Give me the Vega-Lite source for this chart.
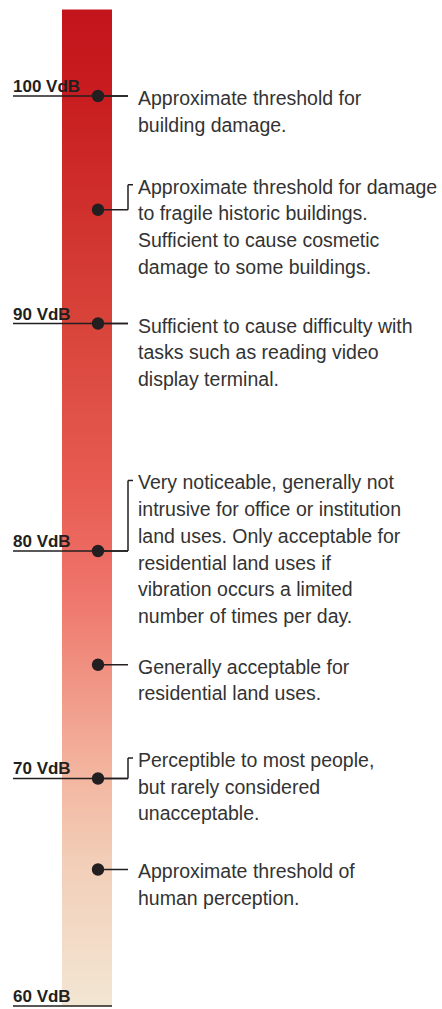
{
  "$schema": "https://vega.github.io/schema/vega-lite/v6.json",
  "width": 429,
  "height": 1009,
  "autosize": {"type": "none"},
  "padding": {"left": 13, "right": 0, "top": 0, "bottom": 0},
  "background": "white",
  "config": {"view": {"stroke": null}},
  "datasets": {
    "bar": [{"top": 103.8, "bottom": 60}],
    "ticks": [
      {"vdb": 100, "label": "100 VdB"},
      {"vdb": 90, "label": "90 VdB"},
      {"vdb": 80, "label": "80 VdB"},
      {"vdb": 70, "label": "70 VdB"},
      {"vdb": 60, "label": "60 VdB"}
    ],
    "notes": [
      {"vdb": 100, "level": 100, "elbow": false, "text": "Approximate threshold for\nbuilding damage."},
      {"vdb": 95, "level": 96.1, "elbow": true, "text": "Approximate threshold for damage\nto fragile historic buildings.\nSufficient to cause cosmetic\ndamage to some buildings."},
      {"vdb": 90, "level": 90, "elbow": false, "text": "Sufficient to cause difficulty with\ntasks such as reading video\ndisplay terminal."},
      {"vdb": 80, "level": 83.1, "elbow": true, "text": "Very noticeable, generally not\nintrusive for office or institution\nland uses. Only acceptable for\nresidential land uses if\nvibration occurs a limited\nnumber of times per day."},
      {"vdb": 75, "level": 75, "elbow": false, "text": "Generally acceptable for\nresidential land uses."},
      {"vdb": 70, "level": 70.9, "elbow": true, "text": "Perceptible to most people,\nbut rarely considered\nunacceptable."},
      {"vdb": 66, "level": 66, "elbow": false, "text": "Approximate threshold of\nhuman perception."}
    ]
  },
  "layer": [
    {
      "data": {"name": "bar"},
      "mark": {
        "type": "rect",
        "color": {
          "gradient": "linear", "x1": 0, "y1": 0, "x2": 0, "y2": 1,
          "stops": [
            {"offset": 0, "color": "#c3141b"},
            {"offset": 0.087, "color": "#c81d20"},
            {"offset": 0.316, "color": "#d8443a"},
            {"offset": 0.48, "color": "#e75c52"},
            {"offset": 0.544, "color": "#ec6a61"},
            {"offset": 0.6, "color": "#ef7a6f"},
            {"offset": 0.654, "color": "#f08e7f"},
            {"offset": 0.772, "color": "#f3b7a1"},
            {"offset": 0.86, "color": "#f2cfb9"},
            {"offset": 1, "color": "#f2e6d3"}
          ]
        }
      },
      "encoding": {
        "x": {"datum": 0, "type": "quantitative", "scale": {"domain": [-0.98, 7.6], "nice": false, "zero": false}, "axis": null},
        "x2": {"datum": 1},
        "y": {"field": "top", "type": "quantitative", "scale": {"domain": [59.868, 104.22], "nice": false, "zero": false}, "axis": null},
        "y2": {"field": "bottom"}
      }
    },
    {
      "data": {"name": "ticks"},
      "transform": [{"filter": "datum.vdb > 60"}],
      "mark": {"type": "rule", "color": "#231f20", "strokeWidth": 1.5},
      "encoding": {
        "x": {"datum": -0.98, "type": "quantitative", "scale": {"domain": [-0.98, 7.6], "nice": false, "zero": false}, "axis": null},
        "x2": {"datum": 1.32},
        "y": {"field": "vdb", "type": "quantitative", "scale": {"domain": [59.868, 104.22], "nice": false, "zero": false}, "axis": null}
      }
    },
    {
      "data": {"name": "ticks"},
      "transform": [{"filter": "datum.vdb == 60"}],
      "mark": {"type": "rule", "color": "#231f20", "strokeWidth": 1.5},
      "encoding": {
        "x": {"datum": -0.98, "type": "quantitative", "scale": {"domain": [-0.98, 7.6], "nice": false, "zero": false}, "axis": null},
        "x2": {"datum": 1},
        "y": {"field": "vdb", "type": "quantitative", "scale": {"domain": [59.868, 104.22], "nice": false, "zero": false}, "axis": null}
      }
    },
    {
      "data": {"name": "notes"},
      "mark": {"type": "rule", "color": "#231f20", "strokeWidth": 1.5},
      "encoding": {
        "x": {"datum": 0.72, "type": "quantitative", "scale": {"domain": [-0.98, 7.6], "nice": false, "zero": false}, "axis": null},
        "x2": {"datum": 1.32},
        "y": {"field": "vdb", "type": "quantitative", "scale": {"domain": [59.868, 104.22], "nice": false, "zero": false}, "axis": null}
      }
    },
    {
      "data": {"name": "notes"},
      "transform": [{"filter": "datum.elbow"}],
      "mark": {"type": "rule", "color": "#231f20", "strokeWidth": 1.5},
      "encoding": {
        "x": {"datum": 1.32, "type": "quantitative", "scale": {"domain": [-0.98, 7.6], "nice": false, "zero": false}, "axis": null},
        "y": {"field": "vdb", "type": "quantitative", "scale": {"domain": [59.868, 104.22], "nice": false, "zero": false}, "axis": null},
        "y2": {"field": "level"}
      }
    },
    {
      "data": {"name": "notes"},
      "transform": [{"filter": "datum.elbow"}],
      "mark": {"type": "rule", "color": "#231f20", "strokeWidth": 1.5},
      "encoding": {
        "x": {"datum": 1.32, "type": "quantitative", "scale": {"domain": [-0.98, 7.6], "nice": false, "zero": false}, "axis": null},
        "x2": {"datum": 1.42},
        "y": {"field": "level", "type": "quantitative", "scale": {"domain": [59.868, 104.22], "nice": false, "zero": false}, "axis": null}
      }
    },
    {
      "data": {"name": "notes"},
      "mark": {"type": "circle", "color": "#231f20", "opacity": 1, "size": 154},
      "encoding": {
        "x": {"datum": 0.72, "type": "quantitative", "scale": {"domain": [-0.98, 7.6], "nice": false, "zero": false}, "axis": null},
        "y": {"field": "vdb", "type": "quantitative", "scale": {"domain": [59.868, 104.22], "nice": false, "zero": false}, "axis": null}
      }
    },
    {
      "data": {"name": "ticks"},
      "mark": {
        "type": "text", "align": "left", "baseline": "alphabetic", "dy": -4,
        "font": "Liberation Sans", "fontWeight": "bold", "fontSize": 17, "color": "#231f20"
      },
      "encoding": {
        "x": {"datum": -0.98, "type": "quantitative", "scale": {"domain": [-0.98, 7.6], "nice": false, "zero": false}, "axis": null},
        "y": {"field": "vdb", "type": "quantitative", "scale": {"domain": [59.868, 104.22], "nice": false, "zero": false}, "axis": null},
        "text": {"field": "label", "type": "nominal"}
      }
    },
    {
      "data": {"name": "notes"},
      "mark": {
        "type": "text", "align": "left", "baseline": "alphabetic", "dy": 9,
        "lineBreak": "\n", "lineHeight": 26.7,
        "font": "Liberation Sans", "fontSize": 19.5, "color": "#333333"
      },
      "encoding": {
        "x": {"datum": 1.52, "type": "quantitative", "scale": {"domain": [-0.98, 7.6], "nice": false, "zero": false}, "axis": null},
        "y": {"field": "level", "type": "quantitative", "scale": {"domain": [59.868, 104.22], "nice": false, "zero": false}, "axis": null},
        "text": {"field": "text", "type": "nominal"}
      }
    }
  ]
}
